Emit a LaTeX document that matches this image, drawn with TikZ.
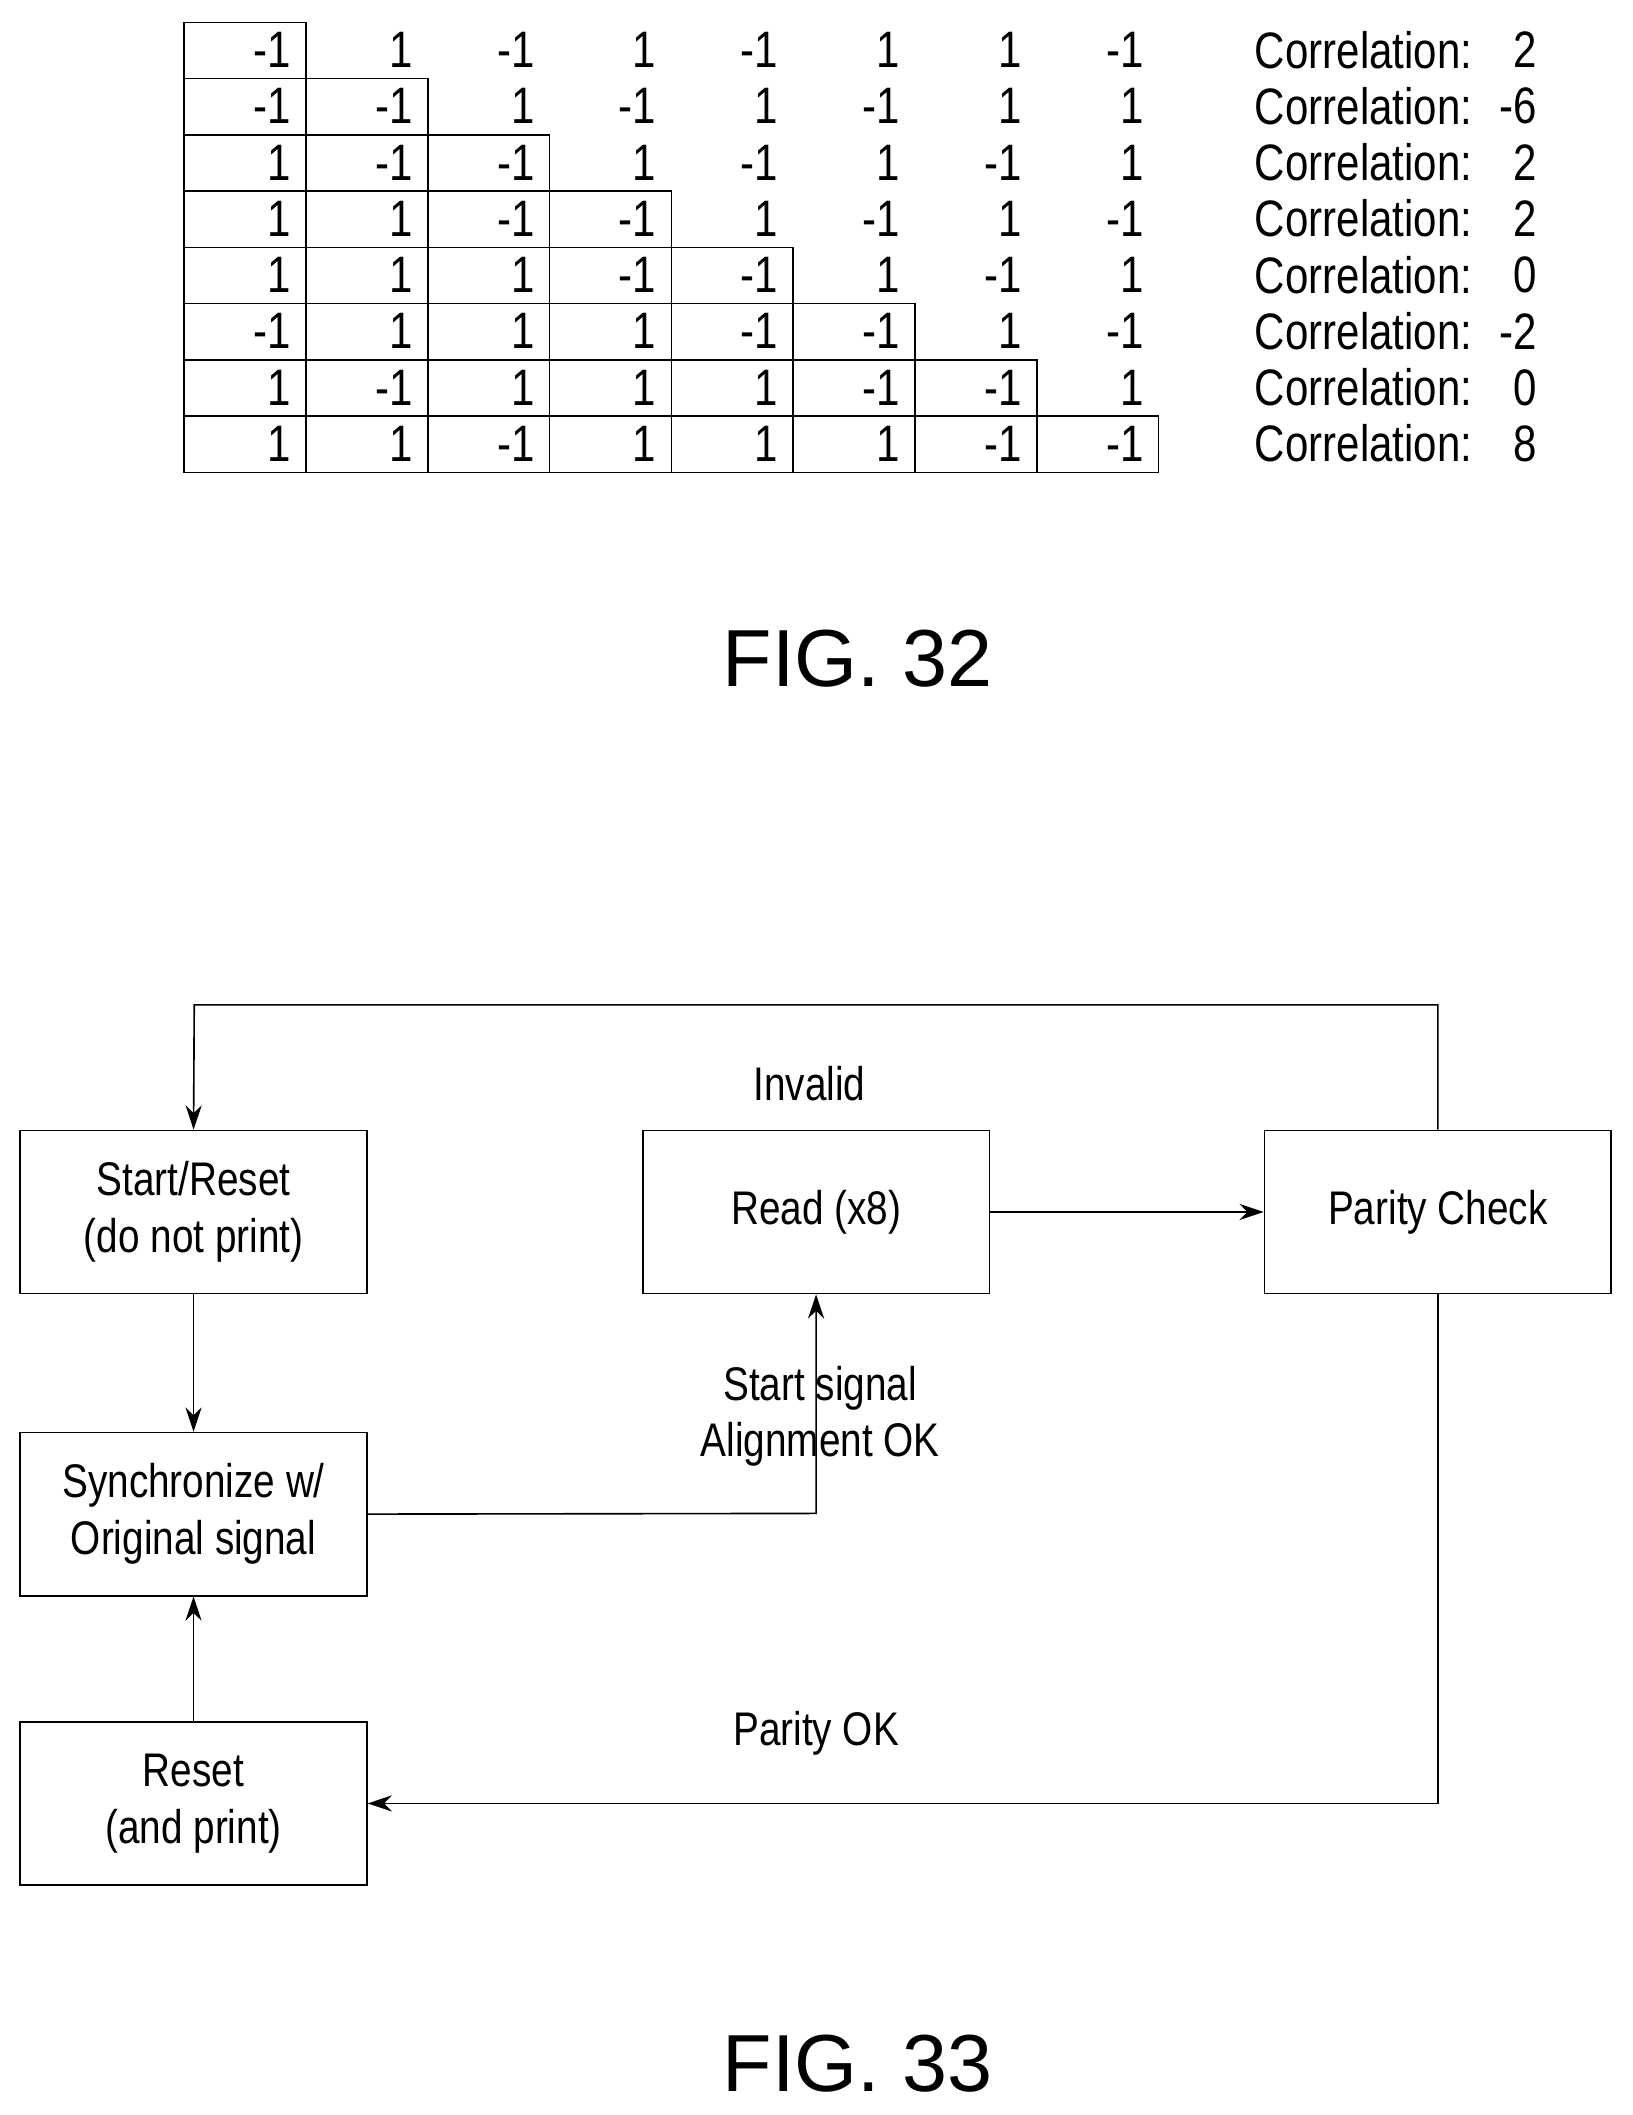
\documentclass[tikz,border=0pt]{standalone}
\usepackage{fontspec}
\setmainfont{Liberation Sans}[FakeStretch=0.82]
\newfontfamily\figfont{Liberation Sans}
\usetikzlibrary{arrows.meta}
\begin{document}
\begin{tikzpicture}[x=0.5pt,y=-0.5pt,
  cell/.style={draw,line width=0.6pt,minimum width=45.15pt,minimum height=20.85pt,inner sep=0pt,anchor=north west},
  num/.style={anchor=east,font=\fontsize{19}{20}\selectfont,inner sep=0pt},
  corr/.style={anchor=west,font=\fontsize{19}{20}\selectfont,inner sep=0pt},
  box/.style={draw,line width=0.6pt,minimum width=128.5pt,minimum height=60.5pt,align=center,font=\fontsize{17.5}{21}\selectfont,inner sep=0pt},
  lab/.style={font=\fontsize{17.5}{21}\selectfont,inner sep=0pt,align=center},
  fig/.style={font=\figfont\fontsize{30}{32}\selectfont,inner sep=0pt},
  arr/.style={line width=0.6pt,-{Stealth[length=9pt,width=6pt]}},
  ln/.style={line width=0.6pt}]
\useasboundingbox (0,0) rectangle (1210,1568);
\def\vals{{{-1,1,-1,1,-1,1,1,-1},{-1,-1,1,-1,1,-1,1,1},{1,-1,-1,1,-1,1,-1,1},{1,1,-1,-1,1,-1,1,-1},{1,1,1,-1,-1,1,-1,1},{-1,1,1,1,-1,-1,1,-1},{1,-1,1,1,1,-1,-1,1},{1,1,-1,1,1,1,-1,-1}}}
\foreach \r/\c in {0/2,1/-6,2/2,3/2,4/0,5/-2,6/0,7/8}{
  \foreach \k in {0,...,7}{
    \pgfmathsetmacro\v{int(\vals[\r][\k])}
    \ifnum\k>\r\else
      \node[cell] (c\r\k) at ({136+90.3*\k},{16+41.7*\r}) {};
    \fi
    \node[num] (n\r\k) at ({136+90.3*\k+80},{16+41.7*\r+21}) {\v};
  }
  \node[corr] (k\r) at (930,{16+41.7*\r+21}) {Correlation:};
  \node[num] (v\r) at (1140,{16+41.7*\r+21}) {\c};
}
\node[fig] (f32) at (636,488) {FIG. 32};
\node[box] (start) at (143.5,898.5) {Start/Reset\\(do not print)};
\node[box] (read) at (605,898.5) {Read (x8)};
\node[box] (par) at (1066,898.5) {Parity Check};
\node[box] (sync) at (143.5,1122.5) {Synchronize w/\\Original signal};
\node[box] (reset) at (143.5,1337) {Reset\\(and print)};
\coordinate (t1) at (1066,745);
\coordinate (t2) at (144,745);
\coordinate (s1) at (605,1122);
\coordinate (b1) at (1066,1337);
\draw[arr] (par.north) -- (t1) -- (t2) -- (start.north);
\draw[arr] (start) -- (sync);
\draw[arr] (sync.east) -- (s1) -- (read.south);
\draw[arr] (read) -- (par);
\draw[arr] (par.south) -- (b1) -- (reset.east);
\draw[arr] (reset) -- (sync);
\node[lab] (inv) at (600,803) {Invalid};
\node[lab] (ss) at (608,1050) {Start signal\\Alignment OK};
\node[lab] (pok) at (605,1285) {Parity OK};
\node[fig] (f33) at (636,1530) {FIG. 33};
\end{tikzpicture}
\end{document}
